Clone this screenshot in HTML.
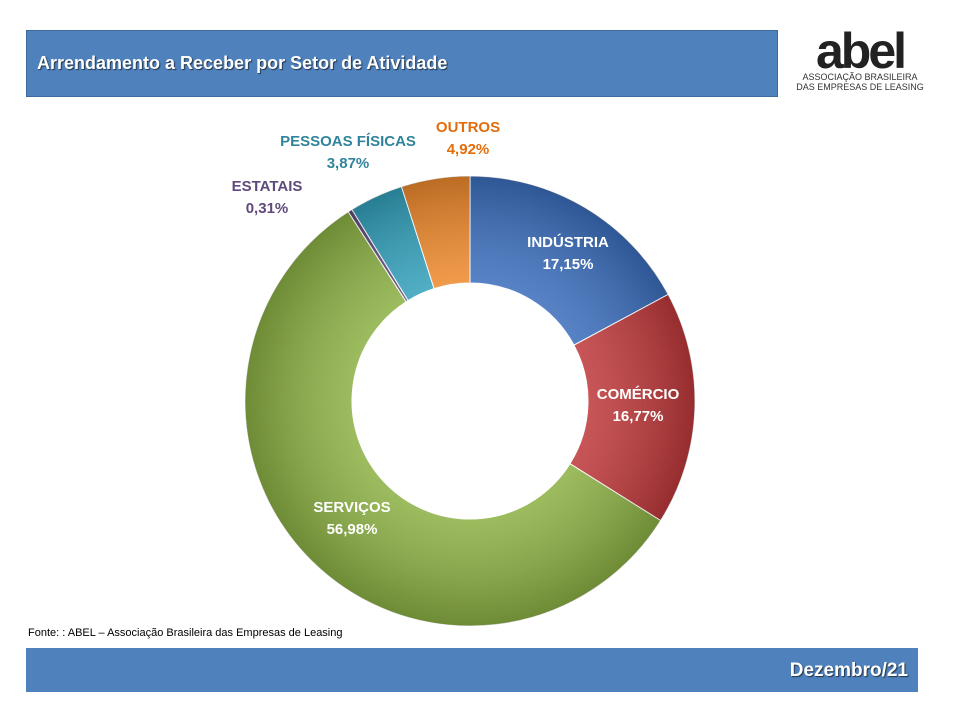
<!DOCTYPE html>
<html><head><meta charset="utf-8"><style>
body{margin:0;width:960px;height:720px;background:#fff;font-family:"Liberation Sans",sans-serif;overflow:hidden;position:relative}
.bar{position:absolute;background:#4f81bd;color:#fff;font-weight:bold}
</style></head><body>
<div class="bar" style="left:26px;top:30px;width:752px;height:67px;border:1px solid #3d6a9e;box-sizing:border-box">
<div style="position:absolute;left:10px;top:22px;font-size:18px;text-shadow:1px 1px 1px #234">Arrendamento a Receber por Setor de Atividade</div></div>
<div style="position:absolute;left:790px;top:30px;width:140px;height:72px;text-align:center">
<div style="font-size:50px;font-weight:bold;letter-spacing:-3px;line-height:42px;color:#222">abel</div>
<div style="font-size:9px;color:#333;line-height:10px">ASSOCIAÇÃO BRASILEIRA<br>DAS EMPRESAS DE LEASING</div></div>
<svg id="chart" width="960" height="720" style="position:absolute;left:0;top:0">
<defs>
<radialGradient id="sh" cx="470" cy="401" r="225" gradientUnits="userSpaceOnUse"><stop offset="0.5" stop-color="#fff" stop-opacity="0.15"/><stop offset="1" stop-color="#000" stop-opacity="0.22"/></radialGradient>
</defs>
<g id="slices"></g>
</svg>
<div style="position:absolute;left:28px;top:627px;font-size:11px;color:#000">Fonte: : ABEL – Associação Brasileira das Empresas de Leasing</div>
<div class="bar" style="left:26px;top:648px;width:892px;height:44px">
<div style="position:absolute;right:10px;top:12px;font-size:19px;text-shadow:1px 1px 1px #234">Dezembro/21</div></div>
<script>
const categories=["INDÚSTRIA","COMÉRCIO","SERVIÇOS","ESTATAIS","PESSOAS FÍSICAS","OUTROS"];
const values=[17.15,16.77,56.98,0.31,3.87,4.92];
const labels=["17,15%","16,77%","56,98%","0,31%","3,87%","4,92%"];
const colors=["#3b6fbe","#c0393b","#8db244","#604a7b","#33a2bd","#f08a2d"];
const textColors=["#fff","#fff","#fff","#604a7b","#31849b","#e46c0a"];
const labelPos=[[568,247],[638,399],[352,512],[267,191],[348,146],[468,132]];
const cx=470,cy=401,R=225,r=118;
const g=document.getElementById('slices');const ns="http://www.w3.org/2000/svg";
const total=values.reduce((a,b)=>a+b,0);let acc=0;
function pt(a,rad){return [cx+rad*Math.sin(a),cy-rad*Math.cos(a)];}
values.forEach((v,i)=>{
const a0=acc/total*2*Math.PI;acc+=v;const a1=acc/total*2*Math.PI;
const lg=(a1-a0)>Math.PI?1:0;const p0=pt(a0,R),p1=pt(a1,R),q1=pt(a1,r),q0=pt(a0,r);
const d=`M${p0}A${R},${R} 0 ${lg} 1 ${p1}L${q1}A${r},${r} 0 ${lg} 0 ${q0}Z`;
const p=document.createElementNS(ns,'path');p.setAttribute('d',d);p.setAttribute('fill',colors[i]);p.setAttribute('stroke','#fff');p.setAttribute('stroke-width','1');


g.appendChild(p);
const s=document.createElementNS(ns,'path');s.setAttribute('d',d);s.setAttribute('fill','url(#sh)');s.setAttribute('pointer-events','none');


g.appendChild(s);
const t=document.createElementNS(ns,'text');t.setAttribute('x',labelPos[i][0]);t.setAttribute('y',labelPos[i][1]);t.setAttribute('text-anchor','middle');t.setAttribute('font-size','15');t.setAttribute('font-weight','bold');t.setAttribute('fill',textColors[i]);t.setAttribute('font-family','Liberation Sans, sans-serif');


const a=document.createElementNS(ns,'tspan');a.setAttribute('x',labelPos[i][0]);a.textContent=categories[i];
const b=document.createElementNS(ns,'tspan');b.setAttribute('x',labelPos[i][0]);b.setAttribute('dy','22');b.textContent=labels[i];
t.appendChild(a);t.appendChild(b);document.getElementById('chart').appendChild(t);
});
</script>
</body></html>
